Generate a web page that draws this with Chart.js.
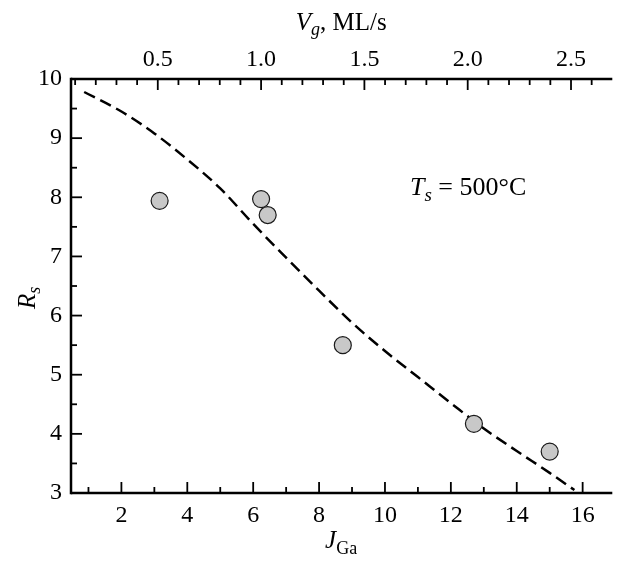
<!DOCTYPE html>
<html>
<head>
<meta charset="utf-8">
<script src="https://cdn.jsdelivr.net/npm/chart.js@4.4.1/dist/chart.umd.min.js"></script>
<style>
  html, body { margin: 0; padding: 0; background: #fff; }
  #wrap { width: 621px; height: 563px; }
</style>
</head>
<body>
<div id="wrap"><canvas id="chartRs"></canvas></div>
<script>
// measured points: R_s vs J_Ga
const jGa = [3.16, 6.24, 6.44, 8.72, 12.70, 15.00];
const rS = [7.94, 7.97, 7.70, 5.50, 4.17, 3.70];

// dashed guide curve
const fitJ = [0.87, 2.0, 3.0, 4.0, 5.0, 6.0, 7.0, 8.0, 9.0, 10.0, 11.0, 12.0, 13.0, 14.0, 15.0, 15.75];
const fitR = [9.78, 9.45, 9.08, 8.64, 8.15, 7.55, 6.98, 6.42, 5.88, 5.40, 4.96, 4.52, 4.09, 3.71, 3.34, 3.05];

// tick labels
const jTicks = [2, 4, 6, 8, 10, 12, 14, 16];
const vgTicks = [0.5, 1.0, 1.5, 2.0, 2.5];
const rTicks = [3, 4, 5, 6, 7, 8, 9, 10];

const serif = "'Liberation Serif', 'Times New Roman', serif";
const tickFont = { family: serif, size: 24 };

function fixTicks(values) {
  return (scale) => {
    scale.ticks = values.map((v) => ({ value: v }));
  };
}

// axis box, inward ticks and the rich-text labels
const frame = {
  id: "frame",
  afterDraw(chart) {
    const { ctx, chartArea: a, scales } = chart;
    const sx = scales.x, st = scales.x2, sy = scales.y;
    ctx.save();
    ctx.strokeStyle = "#000";
    ctx.lineCap = "butt";

    const seg = (x1, y1, x2, y2) => {
      ctx.beginPath();
      ctx.moveTo(x1, y1);
      ctx.lineTo(x2, y2);
      ctx.stroke();
    };

    ctx.lineWidth = 1.8;
    for (let v = 1; v <= 16; v++) {
      const px = sx.getPixelForValue(v);
      seg(px, a.bottom, px, a.bottom - (v % 2 === 0 ? 11 : 6));
    }
    for (let i = 1; i <= 26; i++) {
      const px = st.getPixelForValue(i / 10);
      seg(px, a.top, px, a.top + (i % 5 === 0 ? 11 : 6));
    }
    for (let i = 7; i <= 19; i++) {
      const py = sy.getPixelForValue(i / 2);
      seg(a.left, py, a.left + (i % 2 === 0 ? 11 : 6), py);
    }

    ctx.lineWidth = 2.5;
    seg(a.left, a.bottom, a.right + 1, a.bottom);
    seg(a.left, a.top, a.right + 1, a.top);
    seg(a.left, a.top - 1.25, a.left, a.bottom + 1.25);

    ctx.fillStyle = "#000";
    ctx.textBaseline = "alphabetic";
    const it = (s) => "italic " + s + "px " + serif;
    const rg = (s) => s + "px " + serif;

    // draws a list of [text, font, dy] pieces centered on cx
    const rich = (parts, cx, y) => {
      let w = 0;
      parts.forEach((p) => { ctx.font = p[1]; w += ctx.measureText(p[0]).width; });
      let x = cx - w / 2;
      parts.forEach((p) => {
        ctx.font = p[1];
        ctx.fillText(p[0], x, y + (p[2] || 0));
        x += ctx.measureText(p[0]).width;
      });
    };

    // top title
    rich([["V", it(25)], ["g", it(18), 5], [", ML/s", rg(25)]], (a.left + a.right) / 2, 30);
    // bottom title
    rich([["J", it(25)], ["Ga", rg(18), 6]], (a.left + a.right) / 2, 548);
    // left title
    ctx.save();
    ctx.translate(35, sy.getPixelForValue(6.3));
    ctx.rotate(-Math.PI / 2);
    rich([["R", it(25)], ["s", it(18), 5]], 0, 0);
    ctx.restore();

    // annotation
    ctx.textAlign = "left";
    let x = 410;
    ctx.font = it(26); ctx.fillText("T", x, 195); x += ctx.measureText("T").width;
    ctx.font = it(19); ctx.fillText("s", x, 201); x += ctx.measureText("s").width;
    ctx.font = rg(26); ctx.fillText(" = 500\u00B0C", x, 195);

    ctx.restore();
  },
};

const ctxRs = document.getElementById("chartRs");

const chartRs = new Chart(ctxRs, {
  type: "scatter",
  data: {
    datasets: [
      {
        type: "scatter",
        data: jGa.map((j, i) => ({ x: j, y: rS[i] })),
        backgroundColor: "#c8c8c8",
        borderColor: "#1a1a1a",
        borderWidth: 1.2,
        pointRadius: 8.5,
        pointHoverRadius: 8.5,
      },
      {
        type: "line",
        data: fitJ.map((j, i) => ({ x: j, y: fitR[i] })),
        borderColor: "#000",
        borderWidth: 2.5,
        borderDash: [12, 6],
        pointRadius: 0,
        fill: false,
        cubicInterpolationMode: "monotone",
      },
    ],
  },
  options: {
    responsive: true,
    maintainAspectRatio: false,
    animation: false,
    layout: { padding: { left: 0, right: 1, top: 0, bottom: 0 } },
    plugins: {
      legend: { display: false },
      tooltip: { enabled: false },
    },
    scales: {
      x: {
        type: "linear",
        position: "bottom",
        min: 0.47,
        max: 16.87,
        afterBuildTicks: fixTicks(jTicks),
        afterFit: (s) => { s.height = 70; },
        grid: { display: false, drawTicks: false },
        border: { display: false },
        ticks: { font: tickFont, color: "#000", padding: 8, maxRotation: 0 },
      },
      x2: {
        type: "linear",
        position: "top",
        min: 0.08,
        max: 2.695,
        afterBuildTicks: fixTicks(vgTicks),
        afterFit: (s) => { s.height = 79; },
        grid: { display: false, drawTicks: false },
        border: { display: false },
        ticks: {
          font: tickFont, color: "#000", padding: 5, maxRotation: 0,
          callback: (v) => Number(v).toFixed(1),
        },
      },
      y: {
        type: "linear",
        position: "left",
        min: 3,
        max: 10,
        afterBuildTicks: fixTicks(rTicks),
        afterFit: (s) => { s.width = 71; },
        grid: { display: false, drawTicks: false },
        border: { display: false },
        ticks: { font: tickFont, color: "#000", padding: 9 },
      },
    },
  },
  plugins: [frame],
});
</script>
</body>
</html>
